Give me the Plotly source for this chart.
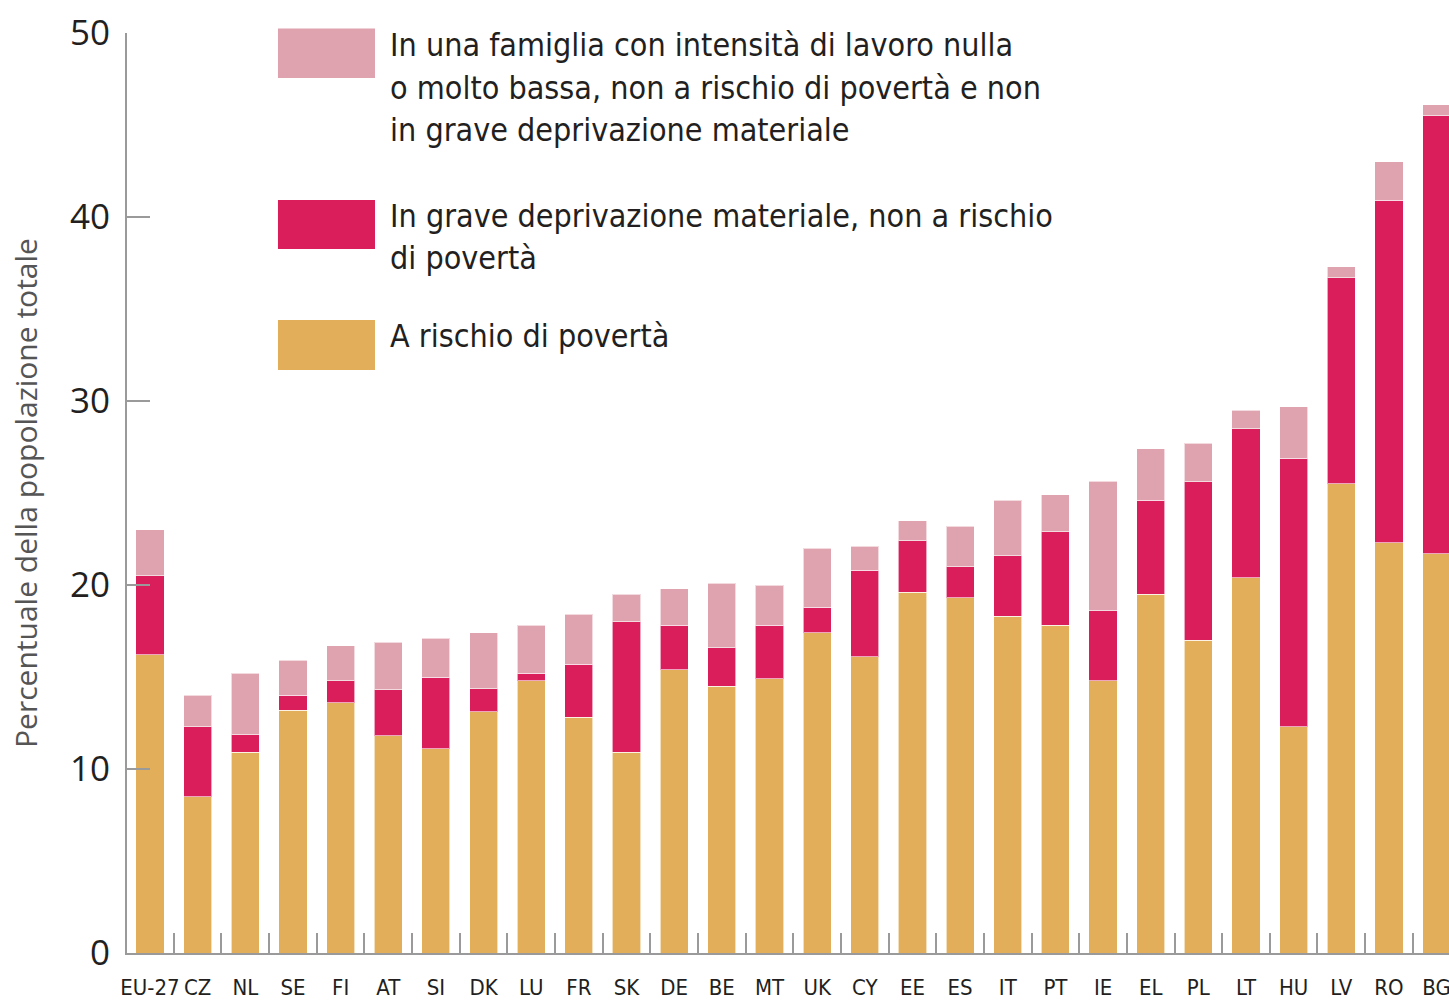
import plotly.graph_objects as go

countries = ["EU-27", "CZ", "NL", "SE", "FI", "AT", "SI", "DK", "LU", "FR",
             "SK", "DE", "BE", "MT", "UK", "CY", "EE", "ES", "IT", "PT",
             "IE", "EL", "PL", "LT", "HU", "LV", "RO", "BG"]

# A rischio di povertà
poverty = [16.2, 8.5, 10.9, 13.2, 13.6, 11.8, 11.1, 13.1, 14.8, 12.8,
           10.9, 15.4, 14.5, 14.9, 17.4, 16.1, 19.6, 19.3, 18.3, 17.8,
           14.8, 19.5, 17.0, 20.4, 12.3, 25.5, 22.3, 21.7]
# In grave deprivazione materiale, non a rischio di povertà
deprivation = [4.3, 3.8, 0.95, 0.8, 1.2, 2.5, 3.9, 1.25, 0.4, 2.9,
               7.1, 2.4, 2.1, 2.9, 1.4, 4.7, 2.8, 1.7, 3.3, 5.1,
               3.8, 5.1, 8.6, 8.1, 14.6, 11.2, 18.6, 23.8]
# In una famiglia con intensità di lavoro nulla o molto bassa
low_work = [2.5, 1.7, 3.35, 1.9, 1.9, 2.6, 2.1, 3.05, 2.6, 2.7,
            1.5, 2.0, 3.5, 2.2, 3.2, 1.3, 1.1, 2.2, 3.0, 2.0,
            7.05, 2.8, 2.1, 1.0, 2.8, 0.6, 2.1, 0.6]

legend_labels = [
    ["In una famiglia con intensità di lavoro nulla",
     "o molto bassa, non a rischio di povertà e non",
     "in grave deprivazione materiale"],
    ["In grave deprivazione materiale, non a rischio",
     "di povertà"],
    ["A rischio di povertà"],
]

PINK = "#dfa2af"
RED = "#da1e5c"
ORANGE = "#e3ae59"
AXIS = "#9a9a9a"
TEXT = "#231f20"
NARROW = "Liberation Sans Narrow, DejaVu Sans Condensed, Open Sans"

fig = go.Figure()
for vals, color, name in [(poverty, ORANGE, "A rischio di povertà"),
                          (deprivation, RED, "In grave deprivazione materiale"),
                          (low_work, PINK, "Intensità di lavoro molto bassa")]:
    fig.add_trace(go.Bar(
        x=countries, y=vals, name=name, width=0.59,
        marker=dict(color=color, line=dict(color="rgba(255,255,255,0.6)", width=1)),
    ))

# legend drawn by hand: big swatches and text lines
swatches = [(PINK, 0.951, 1.005), (RED, 0.7652, 0.8185), (ORANGE, 0.6337, 0.688)]
line_y = [[0.987, 0.9402, 0.8946], [0.8011, 0.7554], [0.6707]]
for (color, y0, y1), lines, ys in zip(swatches, legend_labels, line_y):
    fig.add_shape(type="rect", xref="paper", yref="paper",
                  x0=0.1142, x1=0.1876, y0=y0, y1=y1,
                  fillcolor=color, line=dict(width=0))
    for txt, y in zip(lines, ys):
        fig.add_annotation(xref="paper", yref="paper", x=0.1974, y=y,
                           text=txt, showarrow=False, xanchor="left",
                           yanchor="middle", align="left",
                           font=dict(size=32, color=TEXT, family=NARROW))

fig.update_layout(
    width=1449, height=1004,
    margin=dict(l=127, r=0, t=33, b=51),
    plot_bgcolor="white", paper_bgcolor="white",
    barmode="stack", showlegend=False,
    font=dict(family="Open Sans", color=TEXT),
)
fig.update_xaxes(
    type="category", range=[-0.483, 27.26],
    tickson="boundaries", ticks="inside", ticklen=20, tickwidth=2, tickcolor=AXIS,
    showline=True, linecolor=AXIS, linewidth=2, showgrid=False,
    tickangle=0, ticklabelstandoff=14,
    tickfont=dict(size=22, color=TEXT, family=NARROW),
    automargin=False,
)
fig.update_yaxes(
    range=[0, 50], tickvals=[0, 10, 20, 30, 40, 50],
    ticks="inside", ticklen=23, tickwidth=2, tickcolor=AXIS,
    showline=True, linecolor=AXIS, linewidth=2, showgrid=False, zeroline=False,
    ticklabelstandoff=8,
    tickfont=dict(size=35, color=TEXT, family="Open Sans"),
    title=dict(text="Percentuale della popolazione totale",
               font=dict(size=30, color="#555555", family="Open Sans"), standoff=23),
    automargin=False,
)

# drop the default page margin so the figure fills the window exactly
fig.write_html("out.html",
               config={"displayModeBar": False},
               post_script="document.body.style.margin='0';"
                           "document.body.style.overflow='hidden';")
